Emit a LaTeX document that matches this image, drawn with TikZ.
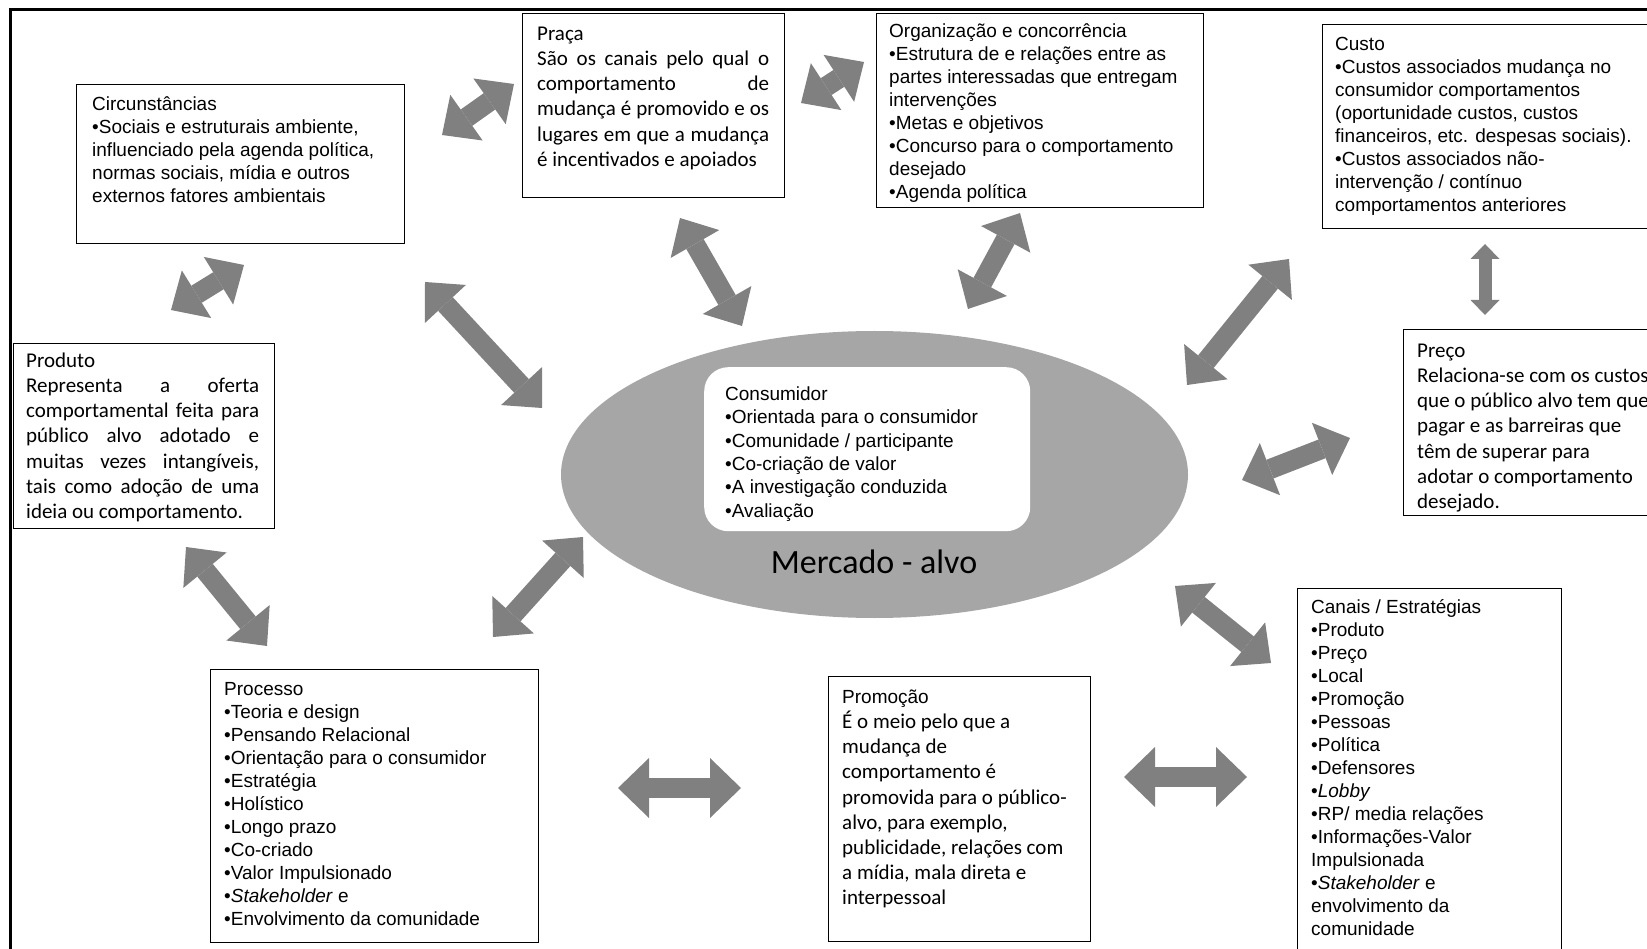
\documentclass[tikz,border=0pt]{standalone}
\usepackage{fontspec}
\setmainfont{Liberation Sans}
\newfontfamily\calf{Carlito}
\usetikzlibrary{arrows.meta,shapes.geometric}

\definecolor{arrowgray}{HTML}{808080}
\definecolor{ellgray}{HTML}{A6A6A6}

% text sizes (1pt = 1 unit of the drawing)
\newcommand\arialsize{\fontsize{19}{23}\selectfont}
\newcommand\calisize{\calf\fontsize{21}{25.2}\selectfont}
% a fully justified line of given width
\newcommand\jl[2]{\makebox[#1][s]{#2}}

\tikzset{
  frame/.style={draw=black, line width=3pt},
  panel/.style={draw=black, line width=1pt, fill=white, inner sep=0pt,
                anchor=north west},
  txt/.style={anchor=north west, inner sep=0pt, align=left, font=\arialsize},
  ctxt/.style={anchor=north west, inner sep=0pt, align=left, font=\calisize},
  link/.style={draw=arrowgray, line width=20pt,
    {Triangle[width=56pt,length=30pt,line width=0pt]}-{Triangle[width=56pt,length=30pt,line width=0pt]}},
  hlink/.style={draw=arrowgray, line width=20pt,
    {Triangle[width=60pt,length=31pt,line width=0pt]}-{Triangle[width=60pt,length=31pt,line width=0pt]}},
  slink/.style={draw=arrowgray, line width=13pt,
    {Triangle[width=29pt,length=15pt,line width=0pt]}-{Triangle[width=29pt,length=15pt,line width=0pt]}},
}

\begin{document}
\begin{tikzpicture}[x=1pt,y=-1pt]
\path[use as bounding box] (0,0) rectangle (1647,949);
\clip (0,0) rectangle (1647,949);

% outer frame (open to the right and bottom)
\draw[frame] (10,10) rectangle (1700,1000);

% target market
\node[ellipse, fill=ellgray, inner sep=0pt, minimum width=627pt,
      minimum height=287pt] (mkt) at (874.5,474.5) {};
\node[rectangle, rounded corners=24pt, fill=white, inner sep=0pt,
      minimum width=326pt, minimum height=164pt, anchor=north west]
      (cons) at (704,367) {};
\node[txt, font=\fontsize{19}{23.3}\selectfont] (cons-t) at (725,384)
  {\strut Consumidor\\•Orientada para o consumidor\\•Comunidade / participante\\
   •Co-criação de valor\\•A investigação conduzida\\•Avaliação};
\node[anchor=base, inner sep=0pt, font=\calf\fontsize{34}{40}\selectfont]
  (mkt-l) at (874,573) {Mercado - alvo};

% panels
\node[panel, minimum width=328pt, minimum height=159pt] (circ) at (76,84) {};
\node[txt] (circ-t) at (92,94)
  {\strut Circunstâncias\\•Sociais e estruturais ambiente,\\
   influenciado pela agenda política,\\normas sociais, mídia e outros\\
   externos fatores ambientais};

\node[panel, minimum width=262pt, minimum height=184pt] (praca) at (522,13) {};
\node[ctxt] (praca-t) at (537,22.4)
  {\strut Praça\\\jl{232pt}{São os canais pelo qual o}\\
   \jl{232pt}{comportamento de}\\\jl{232pt}{mudança é promovido e os}\\
   \jl{232pt}{lugares em que a mudança}\\é incentivados e apoiados};

\node[panel, minimum width=327pt, minimum height=194pt] (org) at (876,13) {};
\node[txt] (org-t) at (889,21)
  {\strut Organização e concorrência\\•Estrutura de e relações entre as\\
   partes interessadas que entregam\\intervenções\\•Metas e objetivos\\
   •Concurso para o comportamento\\desejado\\•Agenda política};

\node[panel, minimum width=380pt, minimum height=204pt] (custo) at (1322,24) {};
\node[txt] (custo-t) at (1335,34)
  {\strut Custo\\•Custos associados mudança no\\consumidor comportamentos\\
   (oportunidade custos, custos\\financeiros, etc. despesas sociais).\\
   •Custos associados não-\\intervenção / contínuo\\comportamentos anteriores};

\node[panel, minimum width=300pt, minimum height=186pt] (preco) at (1403,329) {};
\node[ctxt] (preco-t) at (1417,339.4)
  {\strut Preço\\Relaciona-se com os custos\\que o público alvo tem que\\
   pagar e as barreiras que\\têm de superar para\\adotar o comportamento\\desejado.};

\node[panel, minimum width=261pt, minimum height=185pt] (produto) at (13,343) {};
\node[ctxt] (produto-t) at (26,349.4)
  {\strut Produto\\\jl{233pt}{Representa a oferta}\\
   \jl{233pt}{comportamental feita para}\\\jl{233pt}{público alvo adotado e}\\
   \jl{233pt}{muitas vezes intangíveis,}\\\jl{233pt}{tais como adoção de uma}\\
   ideia ou comportamento.};

\node[panel, minimum width=328pt, minimum height=273pt] (proc) at (210,669) {};
\node[txt] (proc-t) at (224,679)
  {\strut Processo\\•Teoria e design\\•Pensando Relacional\\
   •Orientação para o consumidor\\•Estratégia\\•Holístico\\•Longo prazo\\
   •Co-criado\\•Valor Impulsionado\\•\textit{Stakeholder} e\\
   •Envolvimento da comunidade};

\node[panel, minimum width=262pt, minimum height=265pt] (promo) at (828,676) {};
\node[ctxt] (promo-t) at (842,685.4)
  {\strut{\fontspec{Liberation Sans}\fontsize{19}{25.2}\selectfont Promoção}\\
   É o meio pelo que a\\mudança de\\comportamento é\\promovida para o público-\\
   alvo, para exemplo,\\publicidade, relações com\\a mídia, mala direta e\\interpessoal};

\node[panel, minimum width=264pt, minimum height=420pt] (canais) at (1297,588) {};
\node[txt] (canais-t) at (1311,597)
  {\strut Canais / Estratégias\\•Produto\\•Preço\\•Local\\•Promoção\\•Pessoas\\
   •Política\\•Defensores\\•\textit{Lobby}\\•RP/ media relações\\
   •Informações-Valor\\Impulsionada\\•\textit{Stakeholder} e\\
   envolvimento da\\comunidade};

% block arrow end points
\coordinate (a1s) at (442,135);   \coordinate (a1e) at (514,84);
\coordinate (a2s) at (801,103);   \coordinate (a2e) at (864,62);
\coordinate (a3s) at (171,310);   \coordinate (a3e) at (244,265);
\coordinate (a4s) at (425,282);   \coordinate (a4e) at (542,408);
\coordinate (a5s) at (680,218);   \coordinate (a5e) at (742,326);
\coordinate (a6s) at (1020,213);  \coordinate (a6e) at (968,309);
\coordinate (a7s) at (1289,259);  \coordinate (a7e) at (1187,385);
\coordinate (a8s) at (1485,244);  \coordinate (a8e) at (1485,315);
\coordinate (a9s) at (1242,480);  \coordinate (a9e) at (1350,438);
\coordinate (a10s) at (1175,586); \coordinate (a10e) at (1271,663);
\coordinate (a11s) at (1124,777); \coordinate (a11e) at (1247,777);
\coordinate (a12s) at (618,788);  \coordinate (a12e) at (741,788);
\coordinate (a13s) at (583,537);  \coordinate (a13e) at (493,637);
\coordinate (a14s) at (186,547);  \coordinate (a14e) at (267,646);

% double block arrows
\draw[link] (a1s) -- (a1e);
\draw[link] (a2s) -- (a2e);
\draw[link] (a3s) -- (a3e);
\draw[link] (a4s) -- (a4e);
\draw[link] (a5s) -- (a5e);
\draw[link] (a6s) -- (a6e);
\draw[link] (a7s) -- (a7e);
\draw[slink] (a8s) -- (a8e);
\draw[link] (a9s) -- (a9e);
\draw[link] (a10s) -- (a10e);
\draw[hlink] (a11s) -- (a11e);
\draw[hlink] (a12s) -- (a12e);
\draw[link] (a13s) -- (a13e);
\draw[link] (a14s) -- (a14e);
\end{tikzpicture}
\end{document}
